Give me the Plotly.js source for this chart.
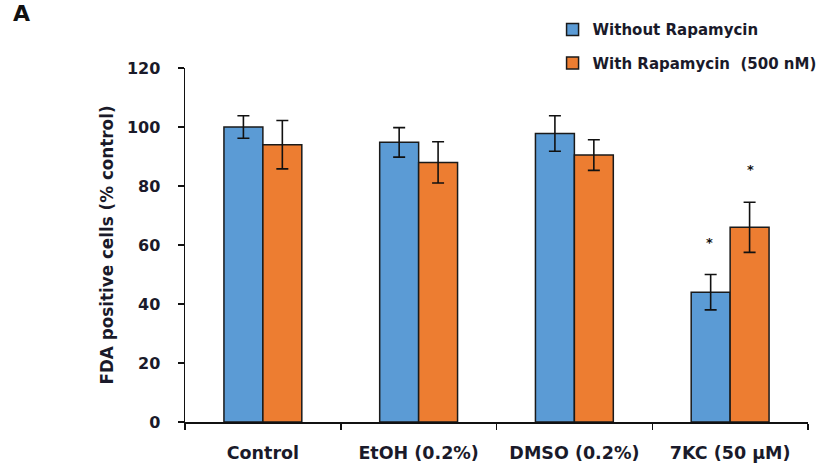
<!DOCTYPE html>
<html>
<head>
<meta charset="utf-8">
<script src="https://cdn.plot.ly/plotly-3.0.1.min.js"></script>
<style>html,body{margin:0;padding:0;background:#fff;}#chart{width:824px;height:467px;}</style>
</head>
<body>
<div id="chart"></div>
<script>
const categories = ["Control", "EtOH (0.2%)", "DMSO (0.2%)", "7KC (50 µM)"];
const withoutRapa = [100, 94.8, 97.8, 44];
const withoutErr = [3.8, 5, 6, 6];
const withRapa = [94, 88, 90.5, 66];
const withErr = [8.2, 7, 5.2, 8.5];
const seriesNames = ["Without Rapamycin", "With Rapamycin\u00a0 (500 nM)"];
const sigCategory = ["7KC (50 µM)", "7KC (50 µM)"];
const sigValue = [62, 86.5];
const sigSeries = [0, 1];

const FONT = "'DejaVu Sans', sans-serif";
const TXT = "#1a1a2a";

const mk = (name, y, err, color, grp) => ({
  type: "bar", name: name, x: categories, y: y,
  legendgroup: grp,
  marker: {color: color, line: {color: "#1a1a1a", width: 1.5}},
  error_y: {type: "data", array: err, visible: true, color: "#111", thickness: 1.6, width: 6}
});

const data = [
  mk(seriesNames[0], withoutRapa, withoutErr, "#5B9BD5", "g1"),
  mk(seriesNames[1], withRapa, withErr, "#ED7D31", "g2")
];

const annotations = [{
  text: "A", xref: "paper", yref: "paper", x: -0.279, y: 1.113,
  xanchor: "left", yanchor: "bottom", showarrow: false,
  font: {family: FONT, size: 22, color: "#111", weight: "bold"}
}];
sigCategory.forEach((c, i) => {
  annotations.push({
    text: "*", x: c, y: sigValue[i], xref: "x", yref: "y",
    xshift: sigSeries[i] === 0 ? -21 : 20, yshift: -3,
    showarrow: false, yanchor: "middle",
    font: {family: FONT, size: 13, color: "#111", weight: "bold"}
  });
});

const layout = {
  width: 824, height: 467,
  margin: {l: 185, r: 16, t: 68, b: 45, autoexpand: false},
  paper_bgcolor: "#fff", plot_bgcolor: "#fff",
  barmode: "group", bargap: 0.5, bargroupgap: 0,
  font: {family: FONT, color: TXT},
  showlegend: true,
  legend: {
    x: 0.59, y: 1.155, xanchor: "left", yanchor: "top",
    font: {family: FONT, size: 15, color: TXT, weight: "bold"},
    traceorder: "grouped", tracegroupgap: 11,
    bgcolor: "rgba(0,0,0,0)"
  },
  xaxis: {
    type: "category", showline: true, linecolor: "#111", linewidth: 1.5,
    ticks: "outside", tickson: "boundaries", ticklen: 6, tickwidth: 1.5, tickcolor: "#111",
    ticklabelstandoff: 14,
    tickfont: {family: FONT, size: 17.5, color: TXT, weight: "bold"},
    showgrid: false, zeroline: false
  },
  yaxis: {
    range: [0, 120], dtick: 20, showline: true, linecolor: "#111", linewidth: 1.5,
    ticks: "outside", ticklen: 6, tickwidth: 1.5, tickcolor: "#111",
    ticklabelstandoff: 14,
    tickfont: {family: FONT, size: 16, color: TXT, weight: "bold"},
    showgrid: false, zeroline: false,
    title: {text: "FDA positive cells (% control)", standoff: 9,
            font: {family: FONT, size: 16.8, color: TXT, weight: "bold"}}
  },
  annotations: annotations
};

Plotly.newPlot("chart", data, layout, {displayModeBar: false, staticPlot: true});
</script>
</body>
</html>
